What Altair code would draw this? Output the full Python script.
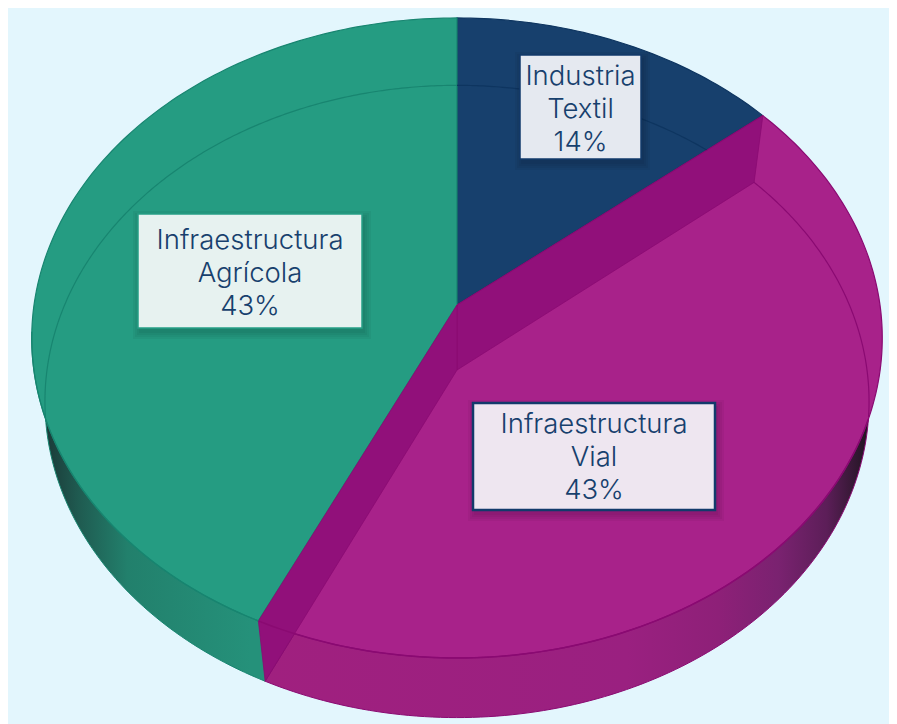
import math
import altair as alt

# ---- chart values -------------------------------------------------------
categories = ["Industria\nTextil", "Infraestructura\nVial", "Infraestructura\nAgrícola"]
shares = [14, 43, 43]
percent_labels = ["14%", "43%", "43%"]
top_colors = ["#17406D", "#A8228A", "#259C82"]
line_colors = ["#0E3560", "#8A0A72", "#188570"]
ink = "#17406D"
page = "#E3F6FD"

# ---- layout -------------------------------------------------------------
W, H = 881, 716
OFF = 8  # page margin
TOP = dict(cx=457, cy=305, a=316.6, b=423, k=-0.103)
BOT = dict(cx=457, cy=370, a=313.0, b=410, k=-0.0995)
boxes = [
    dict(x0=520, x1=641, y0=55, y1=159, fill="#E5E9F0", stroke="#123A6B", sw=1.5, tx=580.5, ty=77),
    dict(x0=473, x1=715, y0=403, y1=510, fill="#EEE6F0", stroke="#123A6B", sw=2.5, tx=594, ty=425),
    dict(x0=138, x1=362, y0=214, y1=328, fill="#E7F2F0", stroke="#27A087", sw=1.5, tx=250, ty=241),
]


def proj(theta_deg, f):
    t = math.radians(theta_deg)
    X, Y = math.sin(t), -math.cos(t)
    d = 1 + f["k"] * Y
    return [f["cx"] + f["b"] * X / d - OFF, f["cy"] + f["a"] * Y / d - OFF]


def rim(a, b, f, step=1.0):
    n = max(2, int(abs(b - a) / step))
    return [proj(a + (b - a) * i / n, f) for i in range(n + 1)]


def apex(f):
    return [f["cx"] - OFF, f["cy"] - OFF]


def feature(coords, kind="Polygon"):
    if kind == "Polygon":
        geom = {"type": "Polygon", "coordinates": [coords + [coords[0]]]}
    else:
        geom = {"type": "LineString", "coordinates": coords}
    return {"type": "Feature", "properties": {}, "geometry": geom}


def shape(coords, kind="Polygon", **mark):
    return (
        alt.Chart(alt.Data(values=[feature(coords, kind)]))
        .mark_geoshape(**mark)
        .project(type="identity", scale=1, translate=[0, 0])
    )


def gradient(stops):
    return alt.LinearGradient(
        gradient="linear", x1=0, x2=1, y1=0, y2=0,
        stops=[alt.GradientStop(color=c, offset=o) for c, o in stops],
    )


# slice angles (clockwise from 12 o'clock)
edges = [0]
for v in shares:
    edges.append(edges[-1] + v / sum(shares) * 360)
a1, a2 = edges[1], edges[2]

layers = [shape([[0, 0], [W, 0], [W, H], [0, H]], fill=page, stroke=None)]

# outer walls = lower disc wedges, hidden behind the upper face
layers.append(shape([apex(BOT)] + rim(a2, 360, BOT),
                    fill=gradient([("#1B3A38", 0), ("#1F5A50", 0.08), ("#22806C", 0.2), ("#25917A", 0.5), ("#25917A", 1)]),
                    stroke=line_colors[2], strokeWidth=1))
layers.append(shape([apex(BOT)] + rim(a1, a2, BOT),
                    fill=gradient([("#A0207F", 0), ("#9A2080", 0.6), ("#8E2078", 0.75), ("#7A2270", 0.85),
                                   ("#5C1E58", 0.93), ("#1F1520", 1)]),
                    stroke=line_colors[1], strokeWidth=1))

# upper faces
for i, (s, e) in enumerate(zip(edges[:-1], edges[1:])):
    layers.append(shape([apex(TOP)] + rim(s, e, TOP), fill=top_colors[i],
                        stroke=line_colors[i], strokeWidth=1.2, strokeJoin="round"))


# the far rim of the lower disc shows through the upper face
def inside_top(p):
    x, y = p[0] + OFF, p[1] + OFF
    return ((x - 457) / 425) ** 2 + ((y - 338) / 320) ** 2 < 1


for i, (s, e) in enumerate(zip(edges[:-1], edges[1:])):
    pts = rim(s, e, BOT, 0.5)
    pts = [p for p in pts if inside_top(p)]
    if len(pts) > 1:
        layers.append(shape(pts, "LineString", filled=False, stroke=line_colors[i], strokeWidth=1.2))

# cut faces of the magenta slice
for a in (a1, a2):
    layers.append(shape([apex(TOP), apex(BOT), proj(a, BOT), proj(a, TOP)],
                        fill="#91107A", stroke="#8A0A72", strokeWidth=0.8))

# front rim line redrawn over the cut face
layers.append(shape(rim(a1 + 60, a2, TOP), "LineString", filled=False, stroke=line_colors[1], strokeWidth=1.5))
layers.append(shape(rim(a2, a2 + 60, TOP), "LineString", filled=False, stroke=line_colors[2], strokeWidth=1.2))


# label boxes
def rect(b, grow=0.0, dx=0.0, dy=0.0):
    x0, x1 = b["x0"] - OFF - grow + dx, b["x1"] - OFF + grow + dx
    y0, y1 = b["y0"] - OFF - grow + dy, b["y1"] - OFF + grow + dy
    return [[x0, y0], [x1, y0], [x1, y1], [x0, y1]]


for b in boxes:
    for g in (7, 5, 3, 1):
        layers.append(shape(rect(b, g, 2, 4), fill="#000000", fillOpacity=0.04, stroke=None))
    layers.append(shape(rect(b), fill=b["fill"], stroke=b["stroke"], strokeWidth=b["sw"]))

label_rows = [
    {"label": c + "\n" + p, "x": b["tx"] - OFF, "y": b["ty"] - OFF}
    for c, p, b in zip(categories, percent_labels, boxes)
]
layers.append(
    alt.Chart(alt.Data(values=label_rows))
    .mark_text(font="Inter", fontSize=27.5, fontWeight=300, color=ink, lineBreak="\n", lineHeight=33,
               align="center", baseline="middle")
    .encode(
        x=alt.X("x:Q", axis=None, scale=alt.Scale(domain=[0, W], range=[0, W], nice=False, zero=False)),
        y=alt.Y("y:Q", axis=None, scale=alt.Scale(domain=[0, H], range=[0, H], nice=False, zero=False)),
        text="label:N",
    )
)

chart = (
    alt.layer(*layers)
    .properties(width=W, height=H, padding=0, background=page)
    .configure_view(stroke=None)
)

chart.save("out.html", embed_options={"renderer": "svg", "actions": False})
